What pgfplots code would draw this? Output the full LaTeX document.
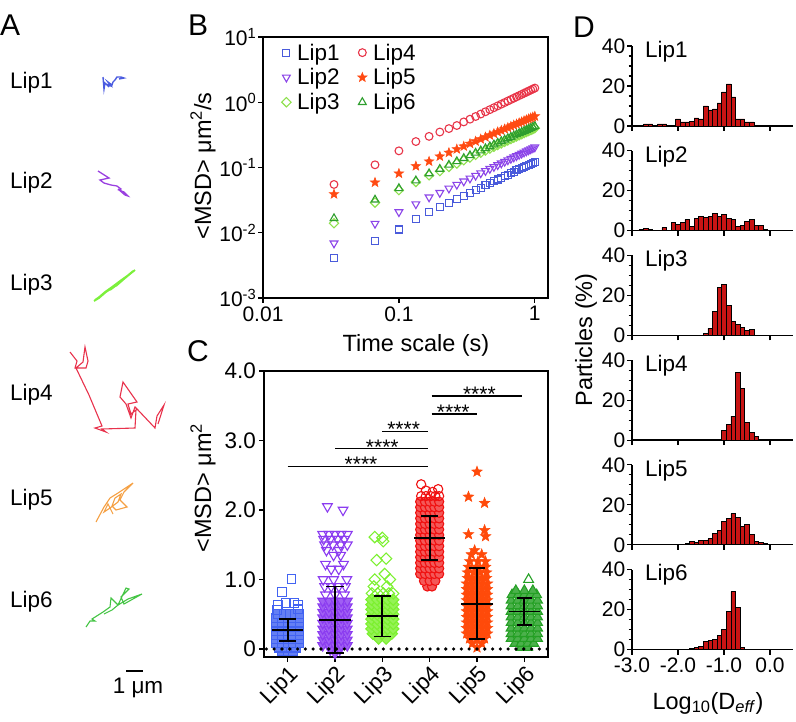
\documentclass[border=0pt]{standalone}
\usepackage{fontspec}
\setmainfont{Liberation Sans}
\usepackage{pgfplots}
\usepackage{pgfplotstable}
\pgfplotsset{compat=1.18}
\usetikzlibrary{plotmarks}

\newcommand{\fs}{\fontsize{22.5}{26}\selectfont}
\newcommand{\ft}{\fontsize{21}{24}\selectfont}
\newcommand{\fl}{\fontsize{23.5}{28}\selectfont}
\newcommand{\fp}{\fontsize{30}{34}\selectfont}

% panel A colours
\definecolor{a1}{HTML}{4B5CE0}
\definecolor{a2}{HTML}{9A40E0}
\definecolor{a3}{HTML}{7CF03C}
\definecolor{a4}{HTML}{E8324C}
\definecolor{a5}{HTML}{F5A043}
\definecolor{a6}{HTML}{44C444}
% panel B colours
\definecolor{b1}{HTML}{4A5BDB}
\definecolor{b2}{HTML}{8B44E8}
\definecolor{b3}{HTML}{8EE04E}
\definecolor{b4}{HTML}{E83448}
\definecolor{b5}{HTML}{FF4A12}
\definecolor{b6}{HTML}{2E9E2E}
% panel C colours
\definecolor{k1}{HTML}{4263F2}
\definecolor{k2}{HTML}{8B3CF0}
\definecolor{k3}{HTML}{7CF030}
\definecolor{k4}{HTML}{F01010}
\definecolor{k5}{HTML}{FF4A0A}
\definecolor{k6}{HTML}{24A024}
\definecolor{hred}{HTML}{C81414}

\pgfdeclareplotmark{fstar}{%
 \pgfpathmoveto{\pgfpointpolar{90}{\pgfplotmarksize}}%
 \pgfpathlineto{\pgfpointpolar{126}{0.42*\pgfplotmarksize}}%
 \pgfpathlineto{\pgfpointpolar{162}{\pgfplotmarksize}}%
 \pgfpathlineto{\pgfpointpolar{198}{0.42*\pgfplotmarksize}}%
 \pgfpathlineto{\pgfpointpolar{234}{\pgfplotmarksize}}%
 \pgfpathlineto{\pgfpointpolar{270}{0.42*\pgfplotmarksize}}%
 \pgfpathlineto{\pgfpointpolar{306}{\pgfplotmarksize}}%
 \pgfpathlineto{\pgfpointpolar{342}{0.42*\pgfplotmarksize}}%
 \pgfpathlineto{\pgfpointpolar{18}{\pgfplotmarksize}}%
 \pgfpathlineto{\pgfpointpolar{54}{0.42*\pgfplotmarksize}}%
 \pgfpathclose
 \pgfusepathqfillstroke}

\pgfplotstableread{
t L1 L2 L3 L4 L5 L6
0.0333 0.0041 0.0069 0.014 0.055 0.039 0.0166
0.0667 0.0074 0.0138 0.029 0.11 0.059 0.032
0.1 0.0112 0.0208 0.045 0.18 0.081 0.048
0.1333 0.0165 0.0275 0.060 0.25 0.105 0.063
0.1667 0.021 0.035 0.076 0.30 0.124 0.081
0.2 0.0246 0.041 0.088 0.35 0.148 0.0947
0.2333 0.0287 0.0478 0.102 0.395 0.169 0.1095
0.2667 0.0328 0.0547 0.115 0.44 0.191 0.1241
0.3 0.0369 0.0615 0.129 0.50 0.211 0.1387
0.3333 0.0410 0.0683 0.142 0.55 0.232 0.1531
0.3667 0.0451 0.0752 0.156 0.605 0.252 0.1675
0.4 0.0492 0.082 0.169 0.66 0.272 0.1817
0.4333 0.0533 0.0888 0.182 0.715 0.292 0.196
0.4667 0.0574 0.0957 0.195 0.77 0.312 0.2101
0.5 0.0615 0.1025 0.208 0.825 0.331 0.2241
0.5333 0.0656 0.1093 0.221 0.88 0.351 0.2381
0.5667 0.0697 0.1162 0.234 0.935 0.370 0.2521
0.6 0.0738 0.123 0.247 0.99 0.389 0.266
0.6333 0.0779 0.1298 0.26 1.045 0.408 0.2799
0.6667 0.0820 0.1367 0.273 1.10 0.427 0.2938
0.7 0.0861 0.1435 0.286 1.155 0.446 0.3075
0.7333 0.0902 0.1503 0.299 1.21 0.464 0.3213
0.7667 0.0943 0.1572 0.312 1.265 0.483 0.335
0.8 0.0984 0.164 0.324 1.32 0.501 0.3487
0.8333 0.1025 0.1708 0.337 1.375 0.520 0.3623
0.8667 0.1066 0.1777 0.35 1.43 0.538 0.3759
0.9 0.1107 0.1845 0.362 1.485 0.556 0.3895
0.9333 0.1148 0.1913 0.375 1.54 0.574 0.403
0.9667 0.1189 0.1982 0.387 1.595 0.592 0.4165
1.0 0.123 0.205 0.40 1.65 0.610 0.43
}\msdtable

\pgfplotsset{
 hist/.style={scale only axis, width=161pt, height=80pt, anchor=south west,
  xmin=-3, xmax=0.5, ymin=0, ymax=40, axis lines=left,
  axis line style={-, line width=1.3pt},
  xtick={-3,-2,-1,0}, ytick={0,20,40}, yticklabels={0,20,40},
  minor ytick={5,10,15,25,30,35},
  tick align=outside, major tick length=5pt, minor tick length=3.5pt,
  every tick/.style={black, line width=1.1pt},
  tick label style={font=\ft}, yticklabel style={inner sep=1.5pt},
  xticklabels={,,,}, clip=false},
 hbar/.style={ybar, bar width=0.1, fill=hred, draw=black, line width=0.7pt},
 eb/.style={black, line width=1.9pt},
 cgeom/.style={at={(264pt,64pt)}, anchor=south west, scale only axis,
  width=284pt, height=286pt, xmin=0.5, xmax=6.5, ymin=-0.115, ymax=4.0},
}

\begin{document}
\begin{tikzpicture}
% ---------------- canvas (panel A and free text) ----------------
\begin{axis}[at={(0pt,0pt)}, anchor=south west, scale only axis,
  width=796pt, height=721pt, xmin=0, xmax=796, ymin=0, ymax=721,
  y dir=reverse, hide axis, clip=false]
\addplot[a1, line width=1.4pt] coordinates {(103,77)(104,89)(105,83)(109,87)(106,84)(111,86)(108,82)(112,85)(113,82)(115,80)(117,77)(121,77)(124,78)(119,79)};
\addplot[a2, line width=1.3pt] coordinates {(98,171)(109,178)(100,180)(104,183)(111,185)(117,186)(121,189)(119,190)(124,192)(128,196)(125,195)(118,189)};
\addplot[a3, line width=1.8pt] coordinates {(94,301)(99,298)(106,292)(112,288)(110,290)(118,284)(116,286)(124,279)(130,274)(135,270)(127,276)(120,281)(112,287)(105,292)(98,298)(95,300)(102,295)(114,286)(126,277)(133,271)};
\addplot[a4, line width=1.1pt] coordinates {(70,352)(77,361)(75,368)(86,368)(88,361)(85,347)(83,362)(76,368)(89,395)(102,426)(95,428)(106,432)(102,429)(135,428)(136,410)(131,414)(128,404)(137,402)(123,382)(120,397)(126,404)(131,418)(135,407)(138,410)(155,428)(157,416)(164,405)(158,424)};
\addplot[a5, line width=1.1pt] coordinates {(96,522)(104,507)(110,498)(118,493)(133,483)(124,492)(120,500)(127,507)(116,510)(112,506)(115,498)(121,494)(118,502)(110,508)(104,512)(108,504)(113,514)};
\addplot[a6, line width=1.1pt] coordinates {(86,627)(90,621)(95,621)(92,619)(103,612)(110,607)(111,598)(118,605)(126,588)(129,589)(121,597)(124,604)(142,594)(128,599)(118,605)(112,610)(104,614)};
\addplot[black, line width=1.2pt] coordinates {(126,671)(143,671)};
\node[font=\fs, anchor=base] at (axis cs:138,693) {1 μm};
\node[font=\fs, anchor=base west, inner sep=0pt] at (axis cs:10,88.5) {Lip1};
\node[font=\fs, anchor=base west, inner sep=0pt] at (axis cs:10,188.5) {Lip2};
\node[font=\fs, anchor=base west, inner sep=0pt] at (axis cs:10,290.5) {Lip3};
\node[font=\fs, anchor=base west, inner sep=0pt] at (axis cs:10,400) {Lip4};
\node[font=\fs, anchor=base west, inner sep=0pt] at (axis cs:10,505) {Lip5};
\node[font=\fs, anchor=base west, inner sep=0pt] at (axis cs:10,607) {Lip6};
\node[font=\fp, anchor=base west, inner sep=0pt] at (axis cs:0,35) {A};
\node[font=\fp, anchor=base west, inner sep=0pt] at (axis cs:188,35) {B};
\node[font=\fp, anchor=base west, inner sep=0pt] at (axis cs:187,361) {C};
\node[font=\fp, anchor=base west, inner sep=0pt] at (axis cs:573,37) {D};
\node[font=\fl, rotate=90, anchor=base, inner sep=0pt] at (axis cs:211,166) {<MSD> μm\textsuperscript{2}/s};
\node[font=\fl, rotate=90, anchor=base, inner sep=0pt] at (axis cs:211,488) {<MSD> μm\textsuperscript{2}};
\node[font=\fl, rotate=90, anchor=base, inner sep=0pt] at (axis cs:592,340) {Particles (\%)};
\node[font=\fl, anchor=base, inner sep=0pt] at (axis cs:416,351) {Time scale (s)};
\node[font=\fl, anchor=base, inner sep=0pt] at (axis cs:708,709) {Log\textsubscript{10}(D\textsubscript{\textit{eff}})};
\end{axis}

% ---------------- panel B ----------------
\begin{axis}[at={(263pt,423pt)}, anchor=south west, scale only axis,
  width=285pt, height=261pt, xmode=log, ymode=log,
  xmin=0.01, xmax=1.25, ymin=0.001, ymax=10,
  xtick={0.01,0.1,1}, xticklabels={0.01,0.1,1},
  ytick={0.001,0.01,0.1,1,10},
  yticklabels={10\textsuperscript{-3},10\textsuperscript{-2},10\textsuperscript{-1},10\textsuperscript{0},10\textsuperscript{1}},
  tick pos=left, tick align=outside, major tick length=5pt, minor tick length=0pt,
  axis line style={line width=1.3pt}, every tick/.style={black, line width=1.3pt},
  tick label style={font=\ft}, yticklabel style={inner sep=1.5pt},
  /pgf/number format/assume math mode=true,
  legend columns=2, legend cell align=left,
  legend style={at={(0.065,0.975)}, anchor=north west, draw=none, fill=none,
    font=\fs, nodes={font=\fs, inner sep=0pt}, inner sep=0pt, row sep=7pt, column sep=0pt,
    /tikz/every odd column/.append style={column sep=6pt},
    /tikz/every even column/.append style={column sep=18pt}}]
\addplot[only marks, mark=square, mark size=3.5pt, mark options={draw=b1, line width=1.1pt}] table[x=t,y=L1]{\msdtable};
\addlegendentry{Lip1}
\addplot[only marks, mark=o, mark size=3.9pt, mark options={draw=b4, line width=1.1pt}] table[x=t,y=L4]{\msdtable};
\addlegendentry{Lip4}
\addplot[only marks, mark=triangle, mark size=4.5pt, mark options={draw=b2, rotate=180, line width=1.1pt}] table[x=t,y=L2]{\msdtable};
\addlegendentry{Lip2}
\addplot[only marks, mark=fstar, mark size=5pt, mark options={draw=b5, fill=b5, line width=0.5pt}] table[x=t,y=L5]{\msdtable};
\addlegendentry{Lip5}
\addplot[only marks, mark=square, mark size=3.3pt, mark options={draw=b3, rotate=45, line width=1.1pt}] table[x=t,y=L3]{\msdtable};
\addlegendentry{Lip3}
\addplot[only marks, mark=triangle, mark size=4.5pt, mark options={draw=b6, line width=1.1pt}] table[x=t,y=L6]{\msdtable};
\addlegendentry{Lip6}
\end{axis}

% ---------------- panel C (points) ----------------
\begin{axis}[cgeom,
  xtick={1,2,3,4,5,6}, xticklabels={Lip1,Lip2,Lip3,Lip4,Lip5,Lip6},
  ytick={0,1,2,3,4}, yticklabels={0,1.0,2.0,3.0,4.0},
  tick pos=left, tick align=outside, major tick length=5pt,
  axis line style={line width=1.3pt}, every tick/.style={black, line width=1.3pt},
  tick label style={font=\fs},
  xticklabel style={rotate=45, anchor=north east, inner sep=1pt},
  yticklabel style={inner sep=3pt},
  /pgf/number format/assume math mode=true]
% Lip1 dense
\addplot[only marks, mark=square*, mark size=4.4pt, mark options={draw=k1, fill=k1!82!white, line width=1.1pt}] coordinates {
(0.88,-0.03)(1,-0.03)(1.12,-0.03)
(0.82,0.02)(0.94,0.02)(1.06,0.02)(1.18,0.02)
(0.75,0.08)(0.88,0.08)(1,0.08)(1.12,0.08)(1.25,0.08)
(0.75,0.14)(0.88,0.14)(1,0.14)(1.12,0.14)(1.25,0.14)
(0.75,0.2)(0.88,0.2)(1,0.2)(1.12,0.2)(1.25,0.2)
(0.75,0.26)(0.88,0.26)(1,0.26)(1.12,0.26)(1.25,0.26)
(0.75,0.32)(0.88,0.32)(1,0.32)(1.12,0.32)(1.25,0.32)
(0.75,0.38)(0.88,0.38)(1,0.38)(1.12,0.38)(1.25,0.38)
(0.75,0.44)(0.88,0.44)(1,0.44)(1.12,0.44)(1.25,0.44)
(0.8,0.5)(0.92,0.5)(1.04,0.5)(1.16,0.5)(1.25,0.5)};
% Lip1 sparse
\addplot[only marks, mark=square, mark size=4.4pt, mark options={draw=k1, line width=1.1pt}] coordinates {
(0.78,0.56)(1.22,0.57)(0.8,0.63)(0.97,0.66)(1.13,0.66)(1.22,0.63)(0.88,0.82)(1.08,1.01)};
% Lip2 dense
\addplot[only marks, mark=triangle*, mark size=5.6pt, mark options={draw=k2, fill=k2!82!white, rotate=180, line width=1.1pt}] coordinates {
(2,-0.06)(1.9,-0.01)(2.1,-0.01)
(1.74,0.05)(1.87,0.05)(2,0.05)(2.13,0.05)(2.26,0.05)
(1.74,0.13)(1.87,0.13)(2,0.13)(2.13,0.13)(2.26,0.13)
(1.74,0.21)(1.87,0.21)(2,0.21)(2.13,0.21)(2.26,0.21)
(1.74,0.29)(1.87,0.29)(2,0.29)(2.13,0.29)(2.26,0.29)
(1.74,0.37)(1.87,0.37)(2,0.37)(2.13,0.37)(2.26,0.37)
(1.74,0.45)(1.87,0.45)(2,0.45)(2.13,0.45)(2.26,0.45)
(1.74,0.53)(1.87,0.53)(2,0.53)(2.13,0.53)(2.26,0.53)
(1.74,0.61)(1.87,0.61)(2,0.61)(2.13,0.61)(2.26,0.61)
(1.74,0.69)(1.87,0.69)(2,0.69)(2.13,0.69)(2.26,0.69)};
% Lip2 sparse
\addplot[only marks, mark=triangle, mark size=5.6pt, mark options={draw=k2, rotate=180, line width=1.1pt}] coordinates {
(1.8,0.78)(2,0.78)(2.2,0.78)
(1.78,0.9)(1.92,0.9)(2.08,0.9)(2.22,0.9)
(1.75,1.0)(1.97,1.0)(2.25,1.0)
(1.92,1.15)(2.08,1.15)(1.8,1.22)(2.18,1.22)
(1.97,1.35)(2.12,1.35)(1.82,1.42)(2.08,1.42)
(1.78,1.5)(1.95,1.5)(2.12,1.5)(2.26,1.5)
(1.76,1.58)(1.9,1.58)(2.05,1.58)(2.2,1.58)
(1.74,1.65)(1.87,1.65)(2,1.65)(2.13,1.65)(2.26,1.65)
(1.84,2.05)(2.17,2.0)};
% Lip3 dense
\addplot[only marks, mark=square*, mark size=4pt, mark options={draw=k3, fill=k3!82!white, rotate=45, line width=1.1pt}] coordinates {
(2.92,0.15)(3.08,0.15)(2.8,0.22)(3,0.22)(3.2,0.22)
(2.77,0.29)(2.89,0.29)(3,0.29)(3.11,0.29)(3.23,0.29)
(2.77,0.36)(2.89,0.36)(3,0.36)(3.11,0.36)(3.23,0.36)
(2.77,0.43)(2.89,0.43)(3,0.43)(3.11,0.43)(3.23,0.43)
(2.77,0.5)(2.89,0.5)(3,0.5)(3.11,0.5)(3.23,0.5)
(2.77,0.57)(2.89,0.57)(3,0.57)(3.11,0.57)(3.23,0.57)
(2.77,0.64)(2.89,0.64)(3,0.64)(3.11,0.64)(3.23,0.64)
(2.77,0.71)(2.89,0.71)(3,0.71)(3.11,0.71)(3.23,0.71)};
% Lip3 sparse
\addplot[only marks, mark=square, mark size=4pt, mark options={draw=k3, rotate=45, line width=1.1pt}] coordinates {
(2.78,0.8)(2.9,0.8)(3.02,0.8)(3.14,0.8)(3.23,0.8)
(2.82,0.9)(3.1,0.9)(2.84,1.0)(3.16,1.0)(3.05,1.08)
(2.88,1.28)(3.08,1.3)(2.84,1.61)(3.0,1.6)(3.02,1.55)};
% Lip4 dense
\addplot[only marks, mark=*, mark size=4.6pt, mark options={draw=k4, fill=k4!70!white, line width=1.1pt}] coordinates {
(3.95,0.9)(4.05,0.9)(3.88,0.98)(4,0.98)(4.12,0.98)
(3.8,1.08)(3.9,1.08)(4,1.08)(4.1,1.08)(4.2,1.08)
(3.8,1.16)(3.9,1.16)(4,1.16)(4.1,1.16)(4.2,1.16)
(3.8,1.24)(3.9,1.24)(4,1.24)(4.1,1.24)(4.2,1.24)
(3.8,1.32)(3.9,1.32)(4,1.32)(4.1,1.32)(4.2,1.32)
(3.8,1.4)(3.9,1.4)(4,1.4)(4.1,1.4)(4.2,1.4)
(3.8,1.48)(3.9,1.48)(4,1.48)(4.1,1.48)(4.2,1.48)
(3.8,1.56)(3.9,1.56)(4,1.56)(4.1,1.56)(4.2,1.56)
(3.8,1.64)(3.9,1.64)(4,1.64)(4.1,1.64)(4.2,1.64)
(3.8,1.72)(3.9,1.72)(4,1.72)(4.1,1.72)(4.2,1.72)
(3.8,1.8)(3.9,1.8)(4,1.8)(4.1,1.8)(4.2,1.8)
(3.8,1.88)(3.9,1.88)(4,1.88)(4.1,1.88)(4.2,1.88)
(3.8,1.96)(3.9,1.96)(4,1.96)(4.1,1.96)(4.2,1.96)
(3.8,2.04)(3.9,2.04)(4,2.04)(4.1,2.04)(4.2,2.04)
(3.8,2.12)(3.9,2.12)(4,2.12)(4.1,2.12)(4.2,2.12)};
% Lip4 sparse
\addplot[only marks, mark=o, mark size=4.6pt, mark options={draw=k4, line width=1.1pt}] coordinates {
(3.82,2.2)(3.92,2.2)(4.02,2.2)(4.12,2.2)(4.2,2.2)
(3.82,2.37)(4.18,2.3)(3.92,2.28)(4.06,2.26)};
% Lip5
\addplot[only marks, mark=fstar, mark size=5.6pt, mark options={draw=k5, fill=k5, line width=0.5pt}] coordinates {
(5,0.02)(4.9,0.08)(5.1,0.08)(4.84,0.15)(5,0.15)(5.16,0.15)
(4.78,0.22)(4.89,0.22)(5,0.22)(5.11,0.22)(5.22,0.22)
(4.78,0.3)(4.89,0.3)(5,0.3)(5.11,0.3)(5.22,0.3)
(4.78,0.38)(4.89,0.38)(5,0.38)(5.11,0.38)(5.22,0.38)
(4.78,0.46)(4.89,0.46)(5,0.46)(5.11,0.46)(5.22,0.46)
(4.78,0.54)(4.89,0.54)(5,0.54)(5.11,0.54)(5.22,0.54)
(4.78,0.62)(4.89,0.62)(5,0.62)(5.11,0.62)(5.22,0.62)
(4.78,0.7)(4.89,0.7)(5,0.7)(5.11,0.7)(5.22,0.7)
(4.78,0.78)(4.89,0.78)(5,0.78)(5.11,0.78)(5.22,0.78)
(4.78,0.86)(4.89,0.86)(5,0.86)(5.11,0.86)(5.22,0.86)
(4.78,0.94)(4.89,0.94)(5,0.94)(5.11,0.94)(5.22,0.94)
(4.8,1.02)(4.9,1.02)(5,1.02)(5.1,1.02)(5.2,1.02)
(4.8,1.1)(4.93,1.1)(5.07,1.1)(5.2,1.1)
(4.82,1.18)(5,1.18)(5.18,1.18)
(4.85,1.26)(5.02,1.26)(5.18,1.26)(4.88,1.36)(5.1,1.36)(4.95,1.42)
(5.0,2.55)(4.82,2.19)(5.16,2.1)(4.82,1.65)(5.16,1.71)(5.18,1.62)};
% Lip6 dense
\addplot[only marks, mark=triangle*, mark size=5.6pt, mark options={draw=k6, fill=k6!82!white, line width=1.1pt}] coordinates {
(5.93,0.02)(6.07,0.02)
(5.8,0.08)(5.93,0.08)(6.07,0.08)(6.2,0.08)
(5.72,0.15)(5.86,0.15)(6,0.15)(6.14,0.15)(6.28,0.15)
(5.72,0.22)(5.86,0.22)(6,0.22)(6.14,0.22)(6.28,0.22)
(5.72,0.3)(5.86,0.3)(6,0.3)(6.14,0.3)(6.28,0.3)
(5.72,0.38)(5.86,0.38)(6,0.38)(6.14,0.38)(6.28,0.38)
(5.72,0.46)(5.86,0.46)(6,0.46)(6.14,0.46)(6.28,0.46)
(5.72,0.54)(5.86,0.54)(6,0.54)(6.14,0.54)(6.28,0.54)
(5.72,0.62)(5.86,0.62)(6,0.62)(6.14,0.62)(6.28,0.62)
(5.72,0.7)(5.86,0.7)(6,0.7)(6.14,0.7)(6.28,0.7)
(5.74,0.78)(5.87,0.78)(6,0.78)(6.13,0.78)(6.26,0.78)
(5.82,0.84)(6,0.84)(6.18,0.84)};
% Lip6 sparse
\addplot[only marks, mark=triangle, mark size=5.6pt, mark options={draw=k6, line width=1.1pt}] coordinates {(6.09,1.0)};
\end{axis}

% ---------------- panel C (overlay: zero line, mean +- SD, significance) ----------------
\begin{axis}[cgeom, hide axis]
\addplot[black, line width=3.6pt, line cap=round, dash pattern=on 0pt off 7.8pt] coordinates {(0.55,0)(6.5,0)};
\addplot[eb] coordinates {(0.67,0.27)(1.33,0.27)};
\addplot[eb] coordinates {(1,0.11)(1,0.43)};
\addplot[eb] coordinates {(0.82,0.11)(1.18,0.11)};
\addplot[eb] coordinates {(0.82,0.43)(1.18,0.43)};
\addplot[eb] coordinates {(1.67,0.42)(2.33,0.42)};
\addplot[eb] coordinates {(2,-0.06)(2,0.90)};
\addplot[eb] coordinates {(1.82,-0.06)(2.18,-0.06)};
\addplot[eb] coordinates {(1.82,0.90)(2.18,0.90)};
\addplot[eb] coordinates {(2.67,0.47)(3.33,0.47)};
\addplot[eb] coordinates {(3,0.18)(3,0.76)};
\addplot[eb] coordinates {(2.82,0.18)(3.18,0.18)};
\addplot[eb] coordinates {(2.82,0.76)(3.18,0.76)};
\addplot[eb] coordinates {(3.67,1.60)(4.33,1.60)};
\addplot[eb] coordinates {(4,1.28)(4,1.92)};
\addplot[eb] coordinates {(3.82,1.28)(4.18,1.28)};
\addplot[eb] coordinates {(3.82,1.92)(4.18,1.92)};
\addplot[eb] coordinates {(4.67,0.65)(5.33,0.65)};
\addplot[eb] coordinates {(5,0.14)(5,1.16)};
\addplot[eb] coordinates {(4.84,0.14)(5.16,0.14)};
\addplot[eb] coordinates {(4.84,1.16)(5.16,1.16)};
\addplot[eb] coordinates {(5.67,0.54)(6.33,0.54)};
\addplot[eb] coordinates {(6,0.34)(6,0.74)};
\addplot[eb] coordinates {(5.84,0.34)(6.16,0.34)};
\addplot[eb] coordinates {(5.84,0.74)(6.16,0.74)};
\addplot[black, line width=1.3pt] coordinates {(1,2.63)(3.96,2.63)};
\addplot[black, line width=1.3pt] coordinates {(2,2.88)(3.96,2.88)};
\addplot[black, line width=1.3pt] coordinates {(3,3.13)(3.96,3.13)};
\addplot[black, line width=1.3pt] coordinates {(4.04,3.38)(5.0,3.38)};
\addplot[black, line width=1.3pt] coordinates {(4.04,3.64)(5.96,3.64)};
\node[font=\ft, inner sep=0pt] at (axis cs:2.55,2.655) {****};
\node[font=\ft, inner sep=0pt] at (axis cs:3.0,2.905) {****};
\node[font=\ft, inner sep=0pt] at (axis cs:3.45,3.155) {****};
\node[font=\ft, inner sep=0pt] at (axis cs:4.5,3.405) {****};
\node[font=\ft, inner sep=0pt] at (axis cs:5.05,3.665) {****};
\end{axis}

% ---------------- panel D ----------------
\begin{axis}[hist, at={(632pt,595pt)}]
\addplot[hbar] coordinates {(-2.7,1)(-2.6,1)(-2.4,1)(-2.3,1)(-2.0,3.5)(-1.9,2)(-1.8,2)(-1.7,2.3)(-1.6,4)(-1.5,3.5)(-1.4,10)(-1.3,8)(-1.2,8.5)(-1.1,11.5)(-1.0,17)(-0.9,21)(-0.8,14.5)(-0.7,3.5)(-0.6,3.5)(-0.5,2)(-0.4,2)};
\node[font=\fs, anchor=base west, inner sep=0pt] at (axis cs:-2.72,34.3) {Lip1};
\end{axis}
\begin{axis}[hist, at={(632pt,490.3pt)}]
\addplot[hbar] coordinates {(-2.8,0.5)(-2.7,1)(-2.6,0.5)(-2.5,0.3)(-2.3,1.5)(-2.1,4)(-2.0,3)(-1.9,4)(-1.8,5.5)(-1.7,2)(-1.6,6)(-1.5,7)(-1.4,6.5)(-1.3,7)(-1.2,8.5)(-1.1,7)(-1.0,8)(-0.9,6)(-0.8,5.5)(-0.7,2)(-0.6,2.5)(-0.5,4.5)(-0.4,5.5)(-0.3,2.5)(-0.2,2.5)(-0.1,0.5)};
\node[font=\fs, anchor=base west, inner sep=0pt] at (axis cs:-2.72,34.3) {Lip2};
\end{axis}
\begin{axis}[hist, at={(632pt,385.6pt)}]
\addplot[hbar] coordinates {(-1.4,1)(-1.3,3.5)(-1.2,12)(-1.1,24)(-1.0,25.5)(-0.9,15)(-0.8,7)(-0.7,5.5)(-0.6,4)(-0.5,2.5)(-0.4,3)};
\node[font=\fs, anchor=base west, inner sep=0pt] at (axis cs:-2.72,34.3) {Lip3};
\end{axis}
\begin{axis}[hist, at={(632pt,280.9pt)}]
\addplot[hbar] coordinates {(-1.0,5)(-0.9,8)(-0.8,12)(-0.7,34)(-0.6,26)(-0.5,9)(-0.4,4)(-0.3,2)};
\node[font=\fs, anchor=base west, inner sep=0pt] at (axis cs:-2.72,34.3) {Lip4};
\end{axis}
\begin{axis}[hist, at={(632pt,176.2pt)}]
\addplot[hbar] coordinates {(-1.8,0.5)(-1.7,1.5)(-1.6,1)(-1.5,2)(-1.4,2)(-1.3,3)(-1.2,5.5)(-1.1,7)(-1.0,11.5)(-0.9,13)(-0.8,15.5)(-0.7,13.5)(-0.6,9)(-0.5,10)(-0.4,5)(-0.3,1.5)(-0.2,1)(-0.1,0.5)};
\node[font=\fs, anchor=base west, inner sep=0pt] at (axis cs:-2.72,34.3) {Lip5};
\end{axis}
\begin{axis}[hist, at={(632pt,71.5pt)}, xticklabels={-3.0,-2.0,-1.0,0.0}]
\addplot[hbar] coordinates {(-1.7,0.5)(-1.6,1)(-1.5,1.5)(-1.4,4)(-1.3,4.5)(-1.2,5)(-1.1,7)(-1.0,10)(-0.9,19)(-0.8,29)(-0.7,21)(-0.6,1)};
\node[font=\fs, anchor=base west, inner sep=0pt] at (axis cs:-2.72,34.3) {Lip6};
\end{axis}

\pgfresetboundingbox
\path[use as bounding box] (0pt,0pt) rectangle (796pt,721pt);
\end{tikzpicture}
\end{document}
